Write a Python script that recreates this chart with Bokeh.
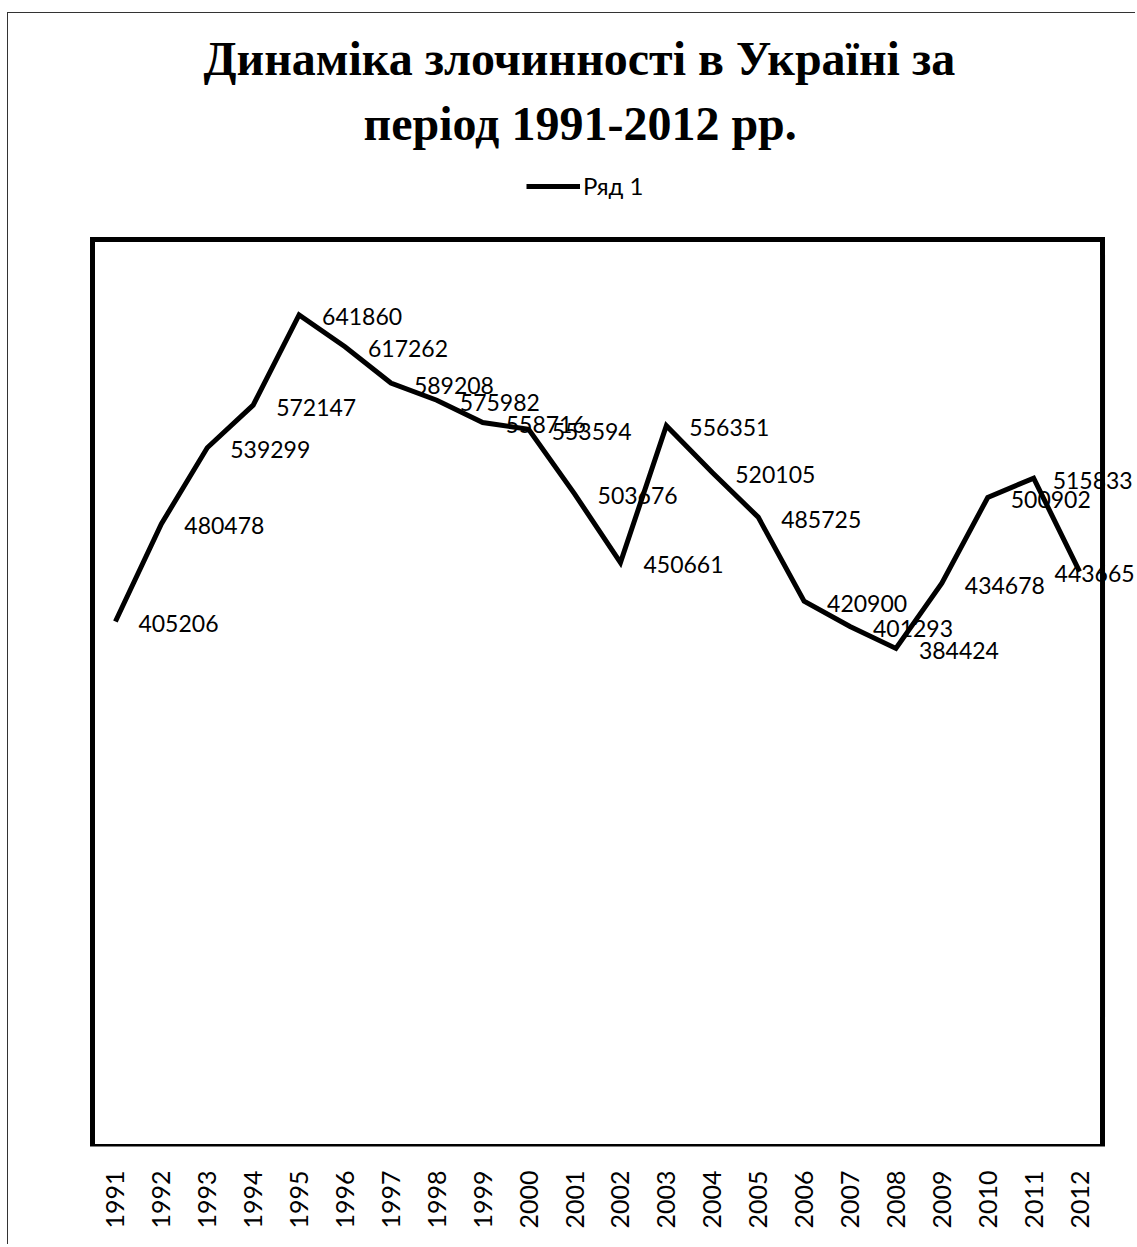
import math
from bokeh.plotting import figure
from bokeh.models import (Range1d, FactorRange, Legend, LegendItem, Title,
                          ColumnDataSource, BoxAnnotation)
from bokeh.core.properties import value
from bokeh.embed import file_html
from bokeh.resources import INLINE

years = [str(y) for y in range(1991, 2013)]
crimes = [405206, 480478, 539299, 572147, 641860, 617262, 589208, 575982,
          558716, 553594, 503676, 450661, 556351, 520105, 485725, 420900,
          401293, 384424, 434678, 500902, 515833, 443665]
title_lines = ["Динаміка злочинності в Україні за", "період 1991-2012 рр."]
series_name = "Ряд 1"
y_max = 700000  # top of the value axis (plot box top)

# layout (pixels)
W, H = 1128, 1232
box_top_px, box_bottom_px = 226, 1133      # relative to canvas top
frame_top_px = 145
pad_units = 0.74
y_end = y_max * (box_bottom_px - frame_top_px) / (box_bottom_px - box_top_px)

dx = [23] * len(years)
dx[-2] = 19    # labels near the right edge kept inside the chart area
dx[-1] = -25

src = ColumnDataSource(dict(year=years, crimes=crimes,
                            label=[str(v) for v in crimes], dx=dx))

p = figure(x_range=FactorRange(*years, range_padding=pad_units, range_padding_units="absolute"),
           y_range=Range1d(0, y_end),
           width=W, height=H, output_backend="svg", toolbar_location=None,
           min_border_left=50, min_border_right=0, min_border_top=frame_top_px,
           min_border_bottom=H - box_bottom_px, title=None)
p.styles = {"border-top": "1px solid #333", "border-left": "1px solid #333",
            "margin-top": "12px", "margin-left": "7px"}

p.outline_line_color = None
p.xgrid.visible = False
p.ygrid.visible = False
p.yaxis.visible = False
p.xaxis.axis_line_color = None
p.xaxis.major_tick_line_color = None
p.xaxis.minor_tick_line_color = None
p.xaxis.major_label_orientation = math.pi / 2
p.xaxis.major_label_standoff = 18
p.xaxis.major_label_text_font = "Lato"
p.xaxis.major_label_text_font_size = "25px"
p.xaxis.major_label_text_color = "black"

box = BoxAnnotation(left=0, right=len(years), bottom=0, top=y_max,
                    fill_alpha=0, fill_color=None, line_color="black", line_alpha=1.0,
                    line_width=5, line_join="miter")
p.add_layout(box)

r = p.line("year", "crimes", source=src, line_width=5, line_color="black", line_join="miter")
p.text("year", "crimes", text="label", source=src, x_offset="dx", y_offset=2,
       text_align="left", text_baseline="middle", text_font=value("Lato"),
       text_font_size="23px", text_color="black")

legend = Legend(items=[LegendItem(label=series_name, renderers=[r])], location=(468, 946),
                orientation="horizontal", glyph_width=54, glyph_height=22, label_height=22,
                label_standoff=3, padding=0, margin=0, spacing=0,
                border_line_alpha=0, background_fill_alpha=0,
                label_text_font="Lato", label_text_font_size="24px", label_text_color="black")
p.add_layout(legend, "center")

# nearest to the frame first: second line, then first line
for line, off, so in [(title_lines[1], 305, 18), (title_lines[0], 145, 2)]:
    t = Title(text=line, align="left", text_font="Liberation Serif", text_font_style="bold",
              text_font_size="48px", text_color="black", standoff=so, offset=off)
    p.add_layout(t, "above")

open("out.html", "w").write(file_html(p, INLINE))
